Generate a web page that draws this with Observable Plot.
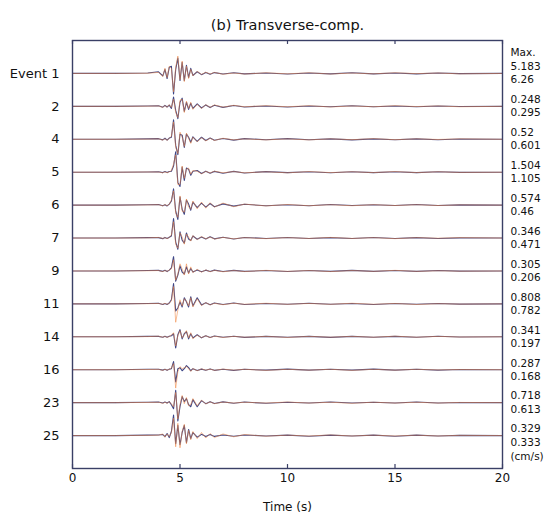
<!DOCTYPE html>
<html>
<head>
<meta charset="utf-8">
<script src="https://cdn.jsdelivr.net/npm/d3@7"></script>
<script src="https://cdn.jsdelivr.net/npm/@observablehq/plot@0.6"></script>
<style>
  html, body { margin: 0; padding: 0; background: #ffffff; }
  #chart svg { display: block; }
</style>
</head>
<body>
<div id="chart"></div>
<script>
// Event labels (left) and peak values (right, cm/s)
const events = ["Event 1", "2", "4", "5", "6", "7", "9", "11", "14", "16", "23", "25"];
const maxObs = ["5.183", "0.248", "0.52", "1.504", "0.574", "0.346", "0.305", "0.808", "0.341", "0.287", "0.718", "0.329"];
const maxSyn = ["6.26", "0.295", "0.601", "1.105", "0.46", "0.471", "0.206", "0.782", "0.197", "0.168", "0.613", "0.333"];
const xTicks = [0, 5, 10, 15, 20];

// Sample times (s)
const T = [0, 2, 3.5, 4.0, 4.2, 4.3, 4.4, 4.5, 4.6, 4.7, 4.8, 4.9, 5.0, 5.1, 5.2, 5.3, 5.4, 5.5, 5.6, 5.8, 6.0, 6.2, 6.4, 6.6, 7.0, 7.5, 8, 9, 10, 11, 12, 13, 14, 15, 16, 17, 18, 20];

// Normalised amplitudes (navy = trace A, orange = trace B)
const ampA = [
  [0,0,0.02,0.08,-0.12,0.2,-0.25,0.3,0.35,-1.0,0.2,0.75,-0.35,0.55,-0.35,0.4,-0.2,0.25,-0.1,0.08,-0.06,0.05,-0.04,0.04,-0.03,0.03,-0.02,0.02,-0.03,0.02,-0.02,0.03,-0.02,0.02,-0.02,0.02,-0.01,0],
  [0,0,0.02,0.03,-0.04,0.05,-0.03,0.06,-0.1,0.45,-0.2,-0.6,0.2,0.4,-0.25,0.2,-0.15,0.15,-0.1,0.12,-0.08,0.07,-0.06,0.05,-0.05,0.04,-0.03,0.02,-0.03,0.02,-0.02,0.03,-0.02,0.02,-0.02,0.02,-0.01,0],
  [0,0,0.02,0.03,-0.03,0.05,-0.04,0.06,0.1,0.95,-0.3,-0.75,0.25,0.2,-0.4,0.25,0.1,-0.15,0.12,-0.1,0.1,-0.06,0.06,-0.05,0.04,-0.04,0.03,-0.02,0.03,-0.02,0.02,-0.03,0.02,-0.02,0.02,-0.02,0.01,0],
  [0,0,0.01,0.02,-0.02,0.03,-0.02,0.03,0.05,0.3,1.0,-0.5,-0.7,0.25,-0.4,0.2,0.15,-0.15,0.05,0.08,-0.06,0.05,-0.05,0.04,-0.05,0.04,-0.04,0.03,-0.02,0.02,-0.03,0.02,-0.02,0.02,-0.02,0.02,-0.01,0],
  [0,0,0.02,0.03,-0.03,0.02,-0.04,0.05,0.2,0.8,-0.3,-0.7,0.4,-0.2,-0.45,0.25,0.05,-0.25,0.15,-0.12,0.1,-0.1,0.08,-0.08,0.06,-0.05,0.04,-0.03,0.02,-0.03,0.03,-0.02,0.02,-0.02,0.03,-0.02,0.01,0],
  [0,0,0.02,0.02,-0.03,0.03,-0.02,0.04,0.1,0.95,-0.2,-0.55,0.3,-0.1,-0.25,0.25,-0.05,-0.12,0.1,-0.06,0.05,-0.05,0.06,-0.04,0.04,-0.05,0.03,-0.02,0.03,-0.02,0.02,-0.02,0.03,-0.02,0.02,-0.02,0.01,0],
  [0,0,0.02,0.03,-0.02,0.03,-0.03,0.04,0.15,0.7,-0.5,-0.2,0.25,-0.05,-0.15,0.2,-0.1,0.12,-0.05,0.05,-0.04,0.04,-0.03,0.04,-0.03,0.03,-0.02,0.02,-0.03,0.02,-0.02,0.03,-0.02,0.02,-0.02,0.02,-0.01,0],
  [0,0,0.02,0.03,-0.03,0.02,-0.03,0.04,0.2,1.0,-0.35,-0.2,0.1,-0.15,0.3,0.1,-0.15,0.35,-0.1,0.3,-0.05,0.05,-0.04,0.04,-0.03,0.04,-0.03,0.02,-0.02,0.03,-0.02,0.02,-0.03,0.02,-0.02,0.02,-0.01,0],
  [0,0,0.02,0.02,-0.02,0.03,-0.02,0.03,0.05,0.15,-0.55,0.1,0.35,-0.1,0.15,0.25,-0.1,0.15,-0.05,0.1,-0.05,0.05,-0.03,0.04,-0.02,0.03,-0.03,0.02,-0.02,0.02,-0.03,0.02,-0.02,0.02,-0.02,0.03,-0.01,0],
  [0,0,0.02,0.02,-0.02,0.02,-0.03,0.03,0.05,0.4,-0.6,0.05,0.1,-0.05,0.05,0.2,0.1,-0.05,0.05,-0.04,0.03,-0.03,0.04,-0.03,0.02,-0.03,0.02,-0.02,0.03,-0.02,0.02,-0.02,0.03,-0.02,0.02,-0.02,0.01,0],
  [0,0,0.02,0.03,-0.02,0.03,-0.02,0.05,-0.1,-0.3,0.6,-0.9,-0.2,0.3,0.05,0.2,-0.1,-0.2,0.15,-0.2,0.1,-0.05,0.05,-0.04,0.04,-0.03,0.03,-0.03,0.02,-0.02,0.03,-0.02,0.02,-0.02,0.03,-0.02,0.01,0],
  [0,0,0.02,0.03,0.05,-0.05,0.1,-0.1,0.2,1.0,-0.4,0.5,-0.45,0.15,0.5,-0.35,0.3,-0.15,0.15,-0.08,0.06,-0.05,0.05,-0.04,0.03,-0.03,0.03,-0.02,0.02,-0.03,0.02,-0.02,0.02,-0.03,0.02,-0.02,0.01,0]
];
const ampB = [
  [0,0,0.01,0.05,-0.15,0.25,-0.2,0.35,0.25,-0.9,0.3,0.85,-0.3,0.6,-0.4,0.35,-0.25,0.2,-0.12,0.1,-0.05,0.06,-0.03,0.05,-0.04,0.02,-0.03,0.03,-0.02,0.03,-0.03,0.02,-0.02,0.03,-0.01,0.02,-0.02,0],
  [0,0,0.01,0.02,-0.05,0.04,-0.05,0.08,-0.05,0.35,-0.3,-0.55,0.3,0.35,-0.3,0.25,-0.1,0.2,-0.15,0.1,-0.1,0.08,-0.05,0.07,-0.04,0.05,-0.02,0.03,-0.02,0.03,-0.03,0.02,-0.02,0.03,-0.01,0.02,-0.02,0],
  [0,0,0.01,0.02,-0.04,0.03,-0.05,0.04,0.15,0.85,-0.4,-0.7,0.35,0.1,-0.35,0.3,0.05,-0.2,0.1,-0.12,0.08,-0.08,0.05,-0.06,0.05,-0.03,0.02,-0.03,0.02,-0.03,0.02,-0.02,0.03,-0.02,0.02,-0.01,0.02,0],
  [0,0,0.01,0.01,-0.03,0.02,-0.03,0.02,0.08,0.4,0.85,-0.6,-0.6,0.3,-0.3,0.15,0.2,-0.1,0.08,0.05,-0.08,0.04,-0.04,0.05,-0.03,0.03,-0.03,0.02,-0.03,0.03,-0.02,0.02,-0.02,0.03,-0.02,0.02,-0.01,0],
  [0,0,0.01,0.02,-0.04,0.03,-0.03,0.04,0.25,0.7,-0.4,-0.6,0.45,-0.3,-0.35,0.3,-0.1,-0.2,0.2,-0.18,0.15,-0.15,0.12,-0.1,0.1,-0.08,0.05,-0.04,0.03,-0.03,0.02,-0.03,0.02,-0.02,0.02,-0.02,0.01,0],
  [0,0,0.01,0.03,-0.02,0.02,-0.03,0.03,0.15,0.8,-0.3,-0.5,0.25,0.05,-0.3,0.2,0.05,-0.15,0.12,-0.08,0.07,-0.04,0.05,-0.05,0.03,-0.04,0.02,-0.03,0.02,-0.02,0.03,-0.02,0.02,-0.03,0.02,-0.01,0.02,0],
  [0,0,0.01,0.02,-0.03,0.02,-0.02,0.05,0.1,0.55,-0.45,-0.15,0.35,0.1,-0.2,0.35,-0.15,0.2,-0.08,0.08,-0.06,0.05,-0.04,0.03,-0.04,0.02,-0.03,0.03,-0.02,0.02,-0.03,0.02,-0.02,0.03,-0.02,0.01,-0.01,0],
  [0,0,0.01,0.02,-0.02,0.03,-0.02,0.03,0.15,0.85,-0.9,-0.3,0.2,-0.1,0.25,0.15,-0.1,0.3,-0.15,0.25,-0.08,0.06,-0.05,0.03,-0.04,0.03,-0.02,0.03,-0.02,0.02,-0.02,0.03,-0.02,0.02,-0.03,0.01,-0.01,0],
  [0,0,0.01,0.03,-0.02,0.02,-0.03,0.02,0.08,0.2,-0.45,0.05,0.3,-0.05,0.1,0.3,-0.05,0.2,-0.1,0.08,-0.04,0.05,-0.04,0.03,-0.03,0.02,-0.02,0.02,-0.03,0.02,-0.02,0.02,-0.02,0.03,-0.02,0.02,-0.01,0],
  [0,0,0.01,0.02,-0.03,0.02,-0.02,0.02,0.08,0.3,-0.9,-0.1,0.15,0.05,0.1,0.15,0.05,-0.08,0.06,-0.05,0.04,-0.02,0.03,-0.03,0.03,-0.02,0.02,-0.03,0.02,-0.02,0.02,-0.03,0.02,-0.02,0.02,-0.01,0.01,0],
  [0,0,0.01,0.02,-0.03,0.02,-0.03,0.04,-0.05,-0.2,0.5,-0.8,-0.1,0.35,-0.05,0.25,-0.15,-0.1,0.2,-0.15,0.12,-0.06,0.04,-0.05,0.03,-0.02,0.02,-0.02,0.03,-0.02,0.02,-0.03,0.02,-0.02,0.02,-0.02,0.01,0],
  [0,0,0.01,0.02,0.08,-0.08,0.08,-0.05,0.15,0.85,-0.55,0.6,-0.6,0.2,0.55,-0.4,0.25,-0.2,0.2,-0.15,0.15,-0.12,0.1,-0.1,0.08,-0.06,0.05,-0.03,0.02,-0.02,0.03,-0.02,0.02,-0.02,0.02,-0.02,0.01,0]
];

const gain = 0.62; // trace amplitude relative to row spacing
const rows = events.map((_, i) => i + 1);

function build(amps, series) {
  const out = [];
  amps.forEach((arr, i) => {
    arr.forEach((a, j) => out.push({t: T[j], y: i + 1 - a * gain, ev: events[i], series}));
  });
  return out;
}
const dataA = build(ampA, "A");
const dataB = build(ampB, "B");

const font = "DejaVu Sans";
const chart = Plot.plot({
  width: 556,
  height: 520,
  marginLeft: 72,
  marginRight: 54,
  marginTop: 40,
  marginBottom: 52,
  style: {fontFamily: font, background: "#ffffff", color: "#111111"},
  x: {domain: [0, 20]},
  y: {domain: [0, 13], reverse: true},
  marks: [
    Plot.line(dataA, {x: "t", y: "y", z: "ev", stroke: "#28327a", strokeWidth: 1.1, strokeOpacity: 0.9}),
    Plot.line(dataB, {x: "t", y: "y", z: "ev", stroke: "#f0843e", strokeWidth: 0.9, strokeOpacity: 0.6}),
    Plot.frame({stroke: "#3a3f66", strokeWidth: 1.4}),
    Plot.ruleX(xTicks, {x: d => d, y1: 13, y2: 12.88, stroke: "#3a3f66", strokeWidth: 1.2}),
    Plot.ruleX(xTicks, {x: d => d, y1: 0, y2: 0.12, stroke: "#3a3f66", strokeWidth: 1.2}),
    Plot.axisX({ticks: xTicks, tickSize: 0, tickPadding: 5, fontSize: 12, label: "Time (s)", labelAnchor: "center", labelArrow: "none", labelOffset: 42}),
    Plot.axisY({ticks: rows, tickFormat: i => events[i - 1], tickSize: 0, tickPadding: 13, fontSize: 13, label: null}),
    Plot.text(rows, {x: 20, y: i => i - 0.2, text: i => maxObs[i - 1], dx: 8, textAnchor: "start", fontSize: 10.5, fill: "#111111"}),
    Plot.text(rows, {x: 20, y: i => i + 0.2, text: i => maxSyn[i - 1], dx: 8, textAnchor: "start", fontSize: 10.5, fill: "#111111"}),
    Plot.text(["Max."], {x: 20, y: 0.36, dx: 8, textAnchor: "start", fontSize: 10.5, fill: "#111111"}),
    Plot.text(["(cm/s)"], {x: 20, y: 12.64, dx: 8, textAnchor: "start", fontSize: 10.5, fill: "#111111"}),
    Plot.text(["(b) Transverse-comp."], {frameAnchor: "top", dy: -21, fontSize: 14.5, fill: "#111111"})
  ]
});
document.getElementById("chart").appendChild(chart);
</script>
</body>
</html>
